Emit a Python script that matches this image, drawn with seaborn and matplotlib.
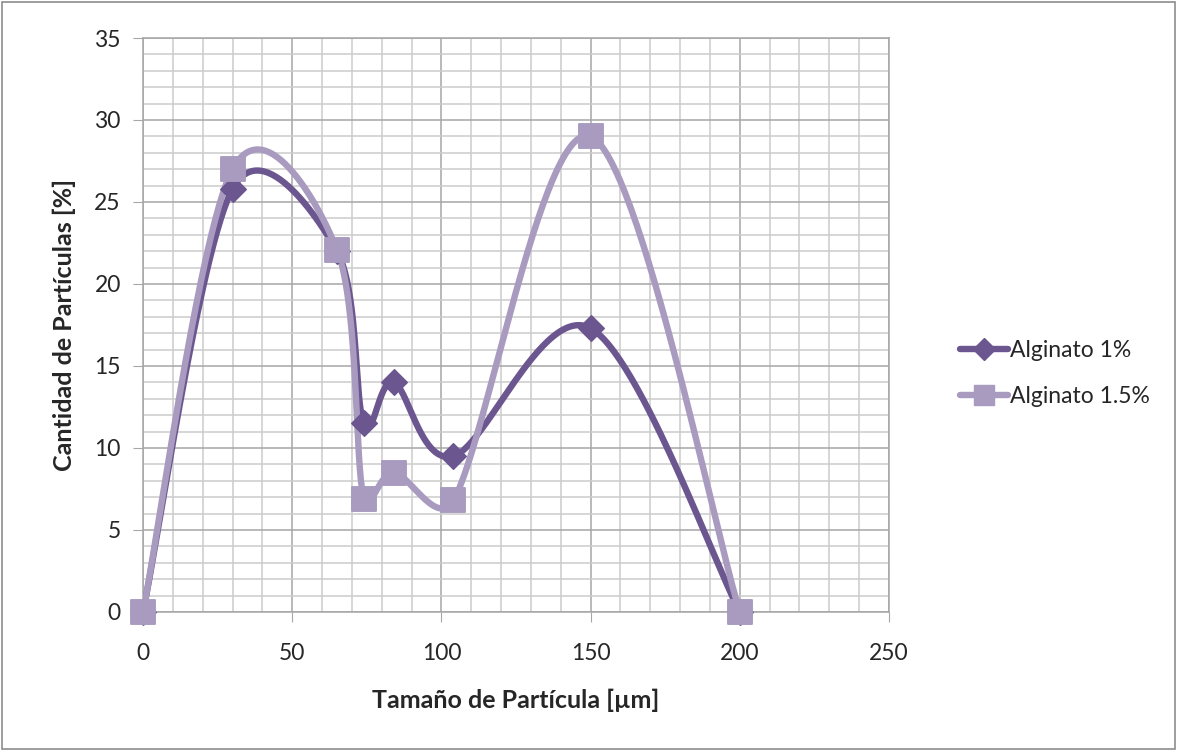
import numpy as np
import pandas as pd
import matplotlib.pyplot as plt
import seaborn as sns
from matplotlib.lines import Line2D
from matplotlib.ticker import MultipleLocator
from matplotlib.patches import Rectangle

# Data
tamano = [0, 30, 65, 74, 84, 104, 150, 200]
alginato_1 = [0, 25.8, 22.0, 11.5, 14.0, 9.5, 17.3, 0]
alginato_15 = [0, 27.0, 22.1, 6.9, 8.5, 6.8, 29.0, 0]
series_names = ["Alginato 1%", "Alginato 1.5%"]

color_dark = "#6b5690"
color_light = "#a89bbf"

# pixel per data unit, used so the smoothing behaves like on screen
SX, SY = 746 / 250, 574 / 35


def smooth_curve(xs, ys, n=60):
    """Excel-like smoothed line: Bezier segments with limited control arms."""
    p = np.column_stack([np.array(xs) * SX, np.array(ys) * SY]).astype(float)
    pts = np.vstack([p[0], p, p[-1]])
    out = []
    t = np.linspace(0, 1, n)
    for i in range(1, len(pts) - 2):
        p0, p1, p2, p3 = pts[i - 1], pts[i], pts[i + 1], pts[i + 2]
        d12 = np.linalg.norm(p2 - p1)
        t1, t2 = p2 - p0, p3 - p1
        n1, n2 = np.linalg.norm(t1), np.linalg.norm(t2)
        f1 = min(1 / 6, 0.5 * d12 / n1) if n1 > 0 else 0
        f2 = min(1 / 6, 0.5 * d12 / n2) if n2 > 0 else 0
        c1 = p1 + t1 * f1
        c2 = p2 - t2 * f2
        seg = ((1 - t) ** 3)[:, None] * p1 + (3 * (1 - t) ** 2 * t)[:, None] * c1 \
            + (3 * (1 - t) * t ** 2)[:, None] * c2 + (t ** 3)[:, None] * p2
        out.append(seg if i == 1 else seg[1:])
    c = np.vstack(out)
    return c[:, 0] / SX, c[:, 1] / SY


sns.set_style("white")
plt.rcParams['font.family'] = ['Lato', 'DejaVu Sans']

fig = plt.figure(figsize=(11.77, 7.51), dpi=100)
ax = fig.add_axes([0.1215, 0.1851, 0.6338, 0.7643])

# smoothed lines
for ys, col in [(alginato_1, color_dark), (alginato_15, color_light)]:
    cx, cy = smooth_curve(tamano, ys)
    df = pd.DataFrame({"x": cx, "y": cy})
    sns.lineplot(data=df, x="x", y="y", sort=False, estimator=None,
                 color=col, linewidth=4.6, ax=ax, zorder=3)

# markers
df_pts = pd.DataFrame({"x": tamano, "a1": alginato_1, "a15": alginato_15})
sns.scatterplot(data=df_pts, x="x", y="a1", marker="D", s=170, color=color_dark,
                edgecolor=color_dark, ax=ax, zorder=4, clip_on=False)
sns.scatterplot(data=df_pts, x="x", y="a15", marker="s", s=290, color=color_light,
                edgecolor=color_light, ax=ax, zorder=5, clip_on=False)

ax.set_xlim(0, 250)
ax.set_ylim(0, 35)
ax.xaxis.set_major_locator(MultipleLocator(50))
ax.xaxis.set_minor_locator(MultipleLocator(10))
ax.yaxis.set_major_locator(MultipleLocator(5))
ax.yaxis.set_minor_locator(MultipleLocator(1))
ax.grid(which="major", color="#a6a6a6", linewidth=1.1, zorder=0)
ax.grid(which="minor", color="#cccccc", linewidth=1.1, zorder=0)
ax.set_axisbelow(True)
for s in ax.spines.values():
    s.set_color("#a6a6a6")
    s.set_linewidth(1.1)
ax.tick_params(which="major", direction="out", length=7, color="#a6a6a6",
               labelsize=16.5, left=True, bottom=True)
ax.tick_params(axis="x", which="major", pad=15)
ax.tick_params(axis="y", which="major", pad=9)
ax.tick_params(which="minor", length=0)

ax.set_xlabel("Tamaño de Partícula [µm]", fontsize=18, fontweight="bold", labelpad=18)
ax.set_ylabel("Cantidad de Partículas [%]", fontsize=18, fontweight="bold", labelpad=13)

handles = [
    Line2D([], [], color=color_dark, lw=4.6, marker="D", markersize=11),
    Line2D([], [], color=color_light, lw=4.6, marker="s", markersize=14),
]
fig.legend(handles, series_names, loc="center left", bbox_to_anchor=(0.798, 0.503),
           frameon=False, fontsize=16.5, handlelength=2.1, handletextpad=0.1,
           labelspacing=1.1)

fig.patches.append(Rectangle((0.002, 0.003), 0.996, 0.994, transform=fig.transFigure,
                             fill=False, edgecolor="#8c8c8c", linewidth=1.2))

fig.savefig("out.png", dpi=100)
